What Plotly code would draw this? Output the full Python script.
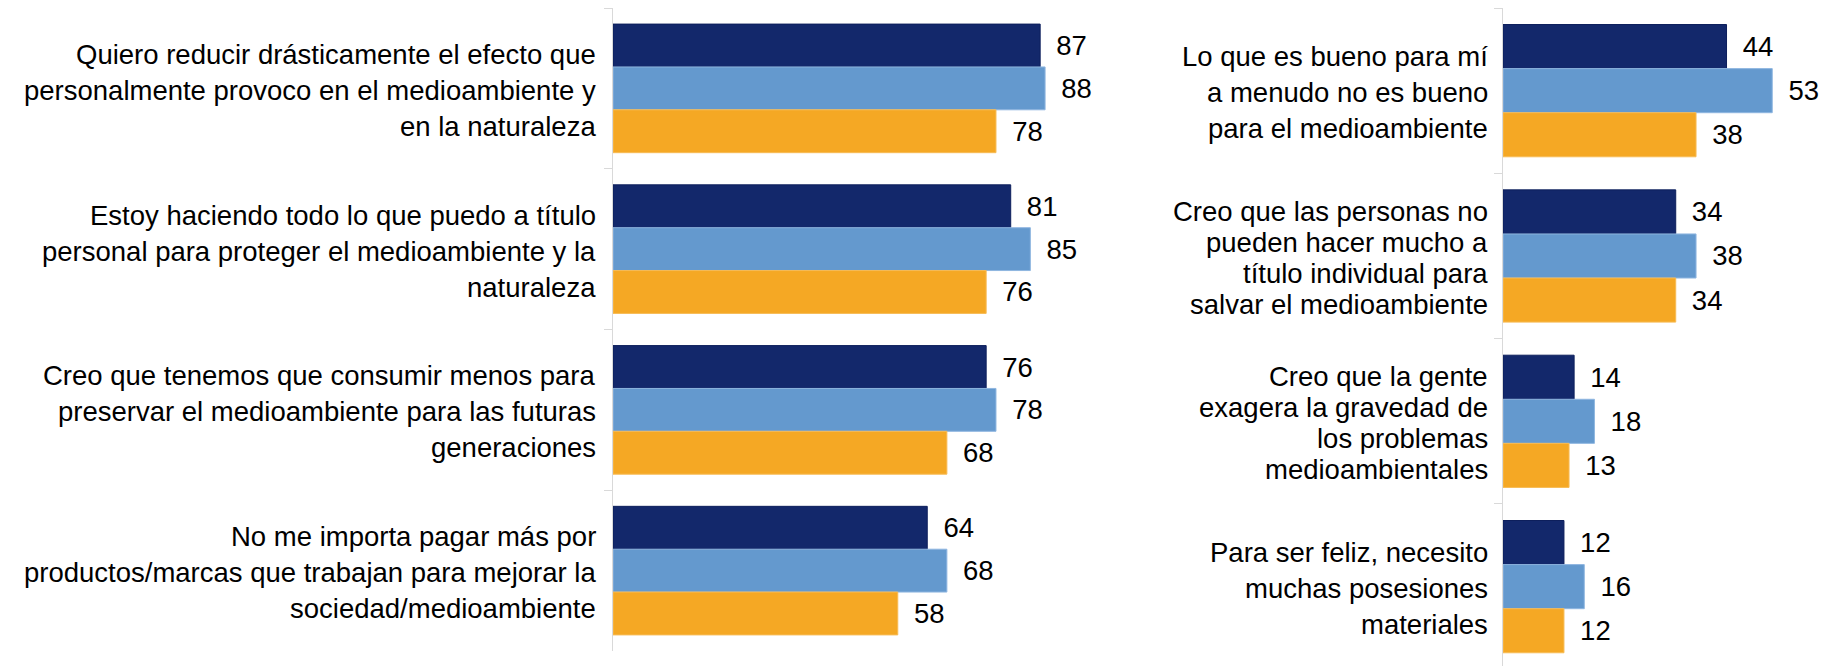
import plotly.graph_objects as go

# Left panel: statements with high agreement
left_labels = [
    "Quiero reducir drásticamente el efecto que<br>personalmente provoco en el medioambiente y<br>en la naturaleza",
    "Estoy haciendo todo lo que puedo a título<br>personal para proteger el medioambiente y la<br>naturaleza",
    "Creo que tenemos que consumir menos para<br>preservar el medioambiente para las futuras<br>generaciones",
    "No me importa pagar más por<br>productos/marcas que trabajan para mejorar la<br>sociedad/medioambiente",
]
left_s1 = [87, 81, 76, 64]
left_s2 = [88, 85, 78, 68]
left_s3 = [78, 76, 68, 58]

# Right panel: statements with lower agreement
right_labels = [
    "Lo que es bueno para mí<br>a menudo no es bueno<br>para el medioambiente",
    "Creo que las personas no<br>pueden hacer mucho a<br>título individual para<br>salvar el medioambiente",
    "Creo que la gente<br>exagera la gravedad de<br>los problemas<br>medioambientales",
    "Para ser feliz, necesito<br>muchas posesiones<br>materiales",
]
right_s1 = [44, 34, 14, 12]
right_s2 = [53, 38, 18, 16]
right_s3 = [38, 34, 13, 12]

series_names = ["Serie 1", "Serie 2", "Serie 3"]
colors = ["#13286b", "#6499ce", "#f5a824"]
edge_colors = ["#0d1f5c", "#8fb6e0", "#f7bb55"]

W, H = 1824, 666
FONT = "Liberation Sans"
LABEL_SIZE = 27.5

fig = go.Figure()


def add_panel(labels, series, xa, ya):
    for i, vals in enumerate(series):
        fig.add_trace(go.Bar(
            y=labels, x=vals, orientation="h",
            name=series_names[i], offsetgroup=str(i),
            marker=dict(color=colors[i], line=dict(color=edge_colors[i], width=1)),
            text=vals, texttemplate=" \u2009%{x}", textposition="outside",
            textfont=dict(family=FONT, size=27.5, color="#000000"),
            constraintext="none", cliponaxis=False,
            xaxis=xa, yaxis=ya, showlegend=False,
        ))


def add_category_text(labels, xa, ya, gap):
    # Right-aligned statement text beside the axis, one annotation per line,
    # with tighter leading for the four-line statements.
    for label in labels:
        lines = label.split("<br>")
        n = len(lines)
        lead = 36 if n <= 3 else 31
        for k, line in enumerate(lines):
            fig.add_annotation(
                x=0, y=label, xref=xa, yref=ya,
                text=line, showarrow=False,
                xanchor="right", yanchor="middle",
                xshift=-gap, yshift=-((k - (n - 1) / 2) * lead) - 2,
                font=dict(family=FONT, size=LABEL_SIZE, color="#000000"),
            )


add_panel(left_labels, [left_s1, left_s2, left_s3], "x", "y")
add_panel(right_labels, [right_s1, right_s2, right_s3], "x2", "y2")
add_category_text(left_labels, "x", "y", 15)
add_category_text(right_labels, "x2", "y2", 13)

axis_line = "#d9d9d9"
common_y = dict(
    type="category", tickson="boundaries", ticks="outside", ticklen=8,
    tickcolor=axis_line, showline=True, linecolor=axis_line, linewidth=1,
    showgrid=False, zeroline=False, showticklabels=False,
)

fig.update_layout(
    width=W, height=H,
    margin=dict(l=0, r=0, t=0, b=0),
    paper_bgcolor="white", plot_bgcolor="white",
    barmode="group", bargap=0.2, bargroupgap=0,
    xaxis=dict(domain=[613 / W, 1110 / W], range=[0, (1110 - 613) / 4.91],
               visible=False, fixedrange=True),
    xaxis2=dict(domain=[1503 / W, 1.0], range=[0, (W - 1503) / 5.08],
                visible=False, fixedrange=True),
    yaxis=dict(domain=[1 - 651 / H, 1 - 8 / H], range=[3.5, -0.5], **common_y),
    yaxis2=dict(domain=[0, 1 - 8 / H], range=[3.48, -0.5], anchor="x2", **common_y),
)

fig.write_html("out.html")
